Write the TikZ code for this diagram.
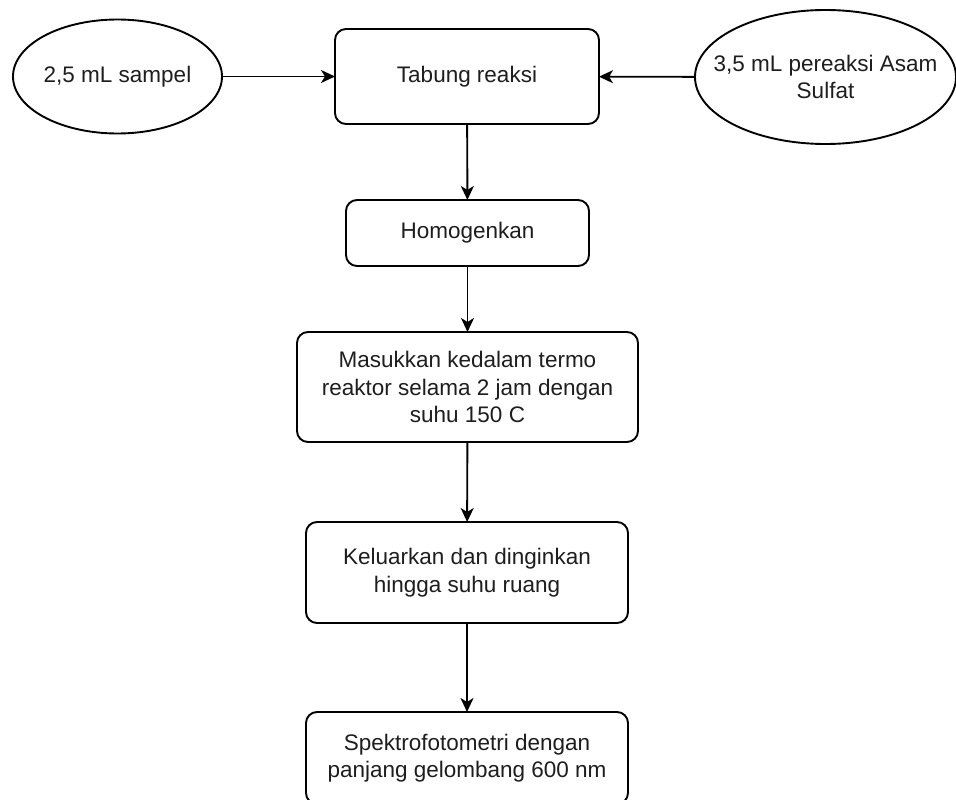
\documentclass[tikz,border=0pt]{standalone}
\usepackage{fontspec}
\setmainfont{Liberation Sans}
\usetikzlibrary{shapes.geometric,arrows.meta}
\definecolor{txt}{HTML}{1E1E1E}
\begin{document}
\begin{tikzpicture}[x=1pt,y=-1pt,
  label font/.style={font=\fontsize{22.5}{27.5}\selectfont, text=txt, align=center},
  stepbox/.style={label font, draw=black, line width=1.9pt, rounded corners=11pt,
    inner sep=0pt, outer sep=0pt},
  inputoval/.style={label font, ellipse, draw=black, line width=1.9pt,
    inner xsep=-30pt, inner ysep=0pt, outer sep=0pt},
  flow/.style={draw=black, line width=1.9pt,
    -{Stealth[length=14pt,width=13pt,inset=4pt]}}]

  % page frame
  \useasboundingbox (0,0) rectangle (956,800);
  \clip (0,0) rectangle (956,800);
  \fill[white] (0,0) rectangle (956,800);

  % inputs
  \node[inputoval, minimum width=209pt, minimum height=114pt] (sample) at (117.5,76.5) {2,5 mL sampel};
  \node[inputoval, minimum width=261pt, minimum height=134pt] (acid) at (825.5,77) {3,5 mL pereaksi Asam\\Sulfat};

  % process steps
  \node[stepbox, minimum width=264pt, minimum height=95pt] (tube) at (467,76.5) {Tabung reaksi};
  \node[stepbox, minimum width=243pt, minimum height=66pt] (mix) at (467.5,233) {Homogenkan};
  \node[stepbox, minimum width=341pt, minimum height=110pt] (heat) at (467.5,387) {Masukkan kedalam termo\\reaktor selama 2 jam dengan\\suhu 150 C};
  \node[stepbox, minimum width=322pt, minimum height=101pt] (cool) at (467,572.5) {Keluarkan dan dinginkan\\hingga suhu ruang};
  \node[stepbox, minimum width=322pt, minimum height=92pt] (spec) at (467,758) {Spektrofotometri dengan\\panjang gelombang 600 nm};

  % connectors
  \draw[flow] (sample) -- (tube);
  \draw[flow] (acid) -- (tube);
  \draw[flow] (tube) -- (mix);
  \draw[flow] (mix) -- (heat);
  \draw[flow] (heat) -- (cool);
  \draw[flow] (cool) -- (spec);
\end{tikzpicture}
\end{document}
